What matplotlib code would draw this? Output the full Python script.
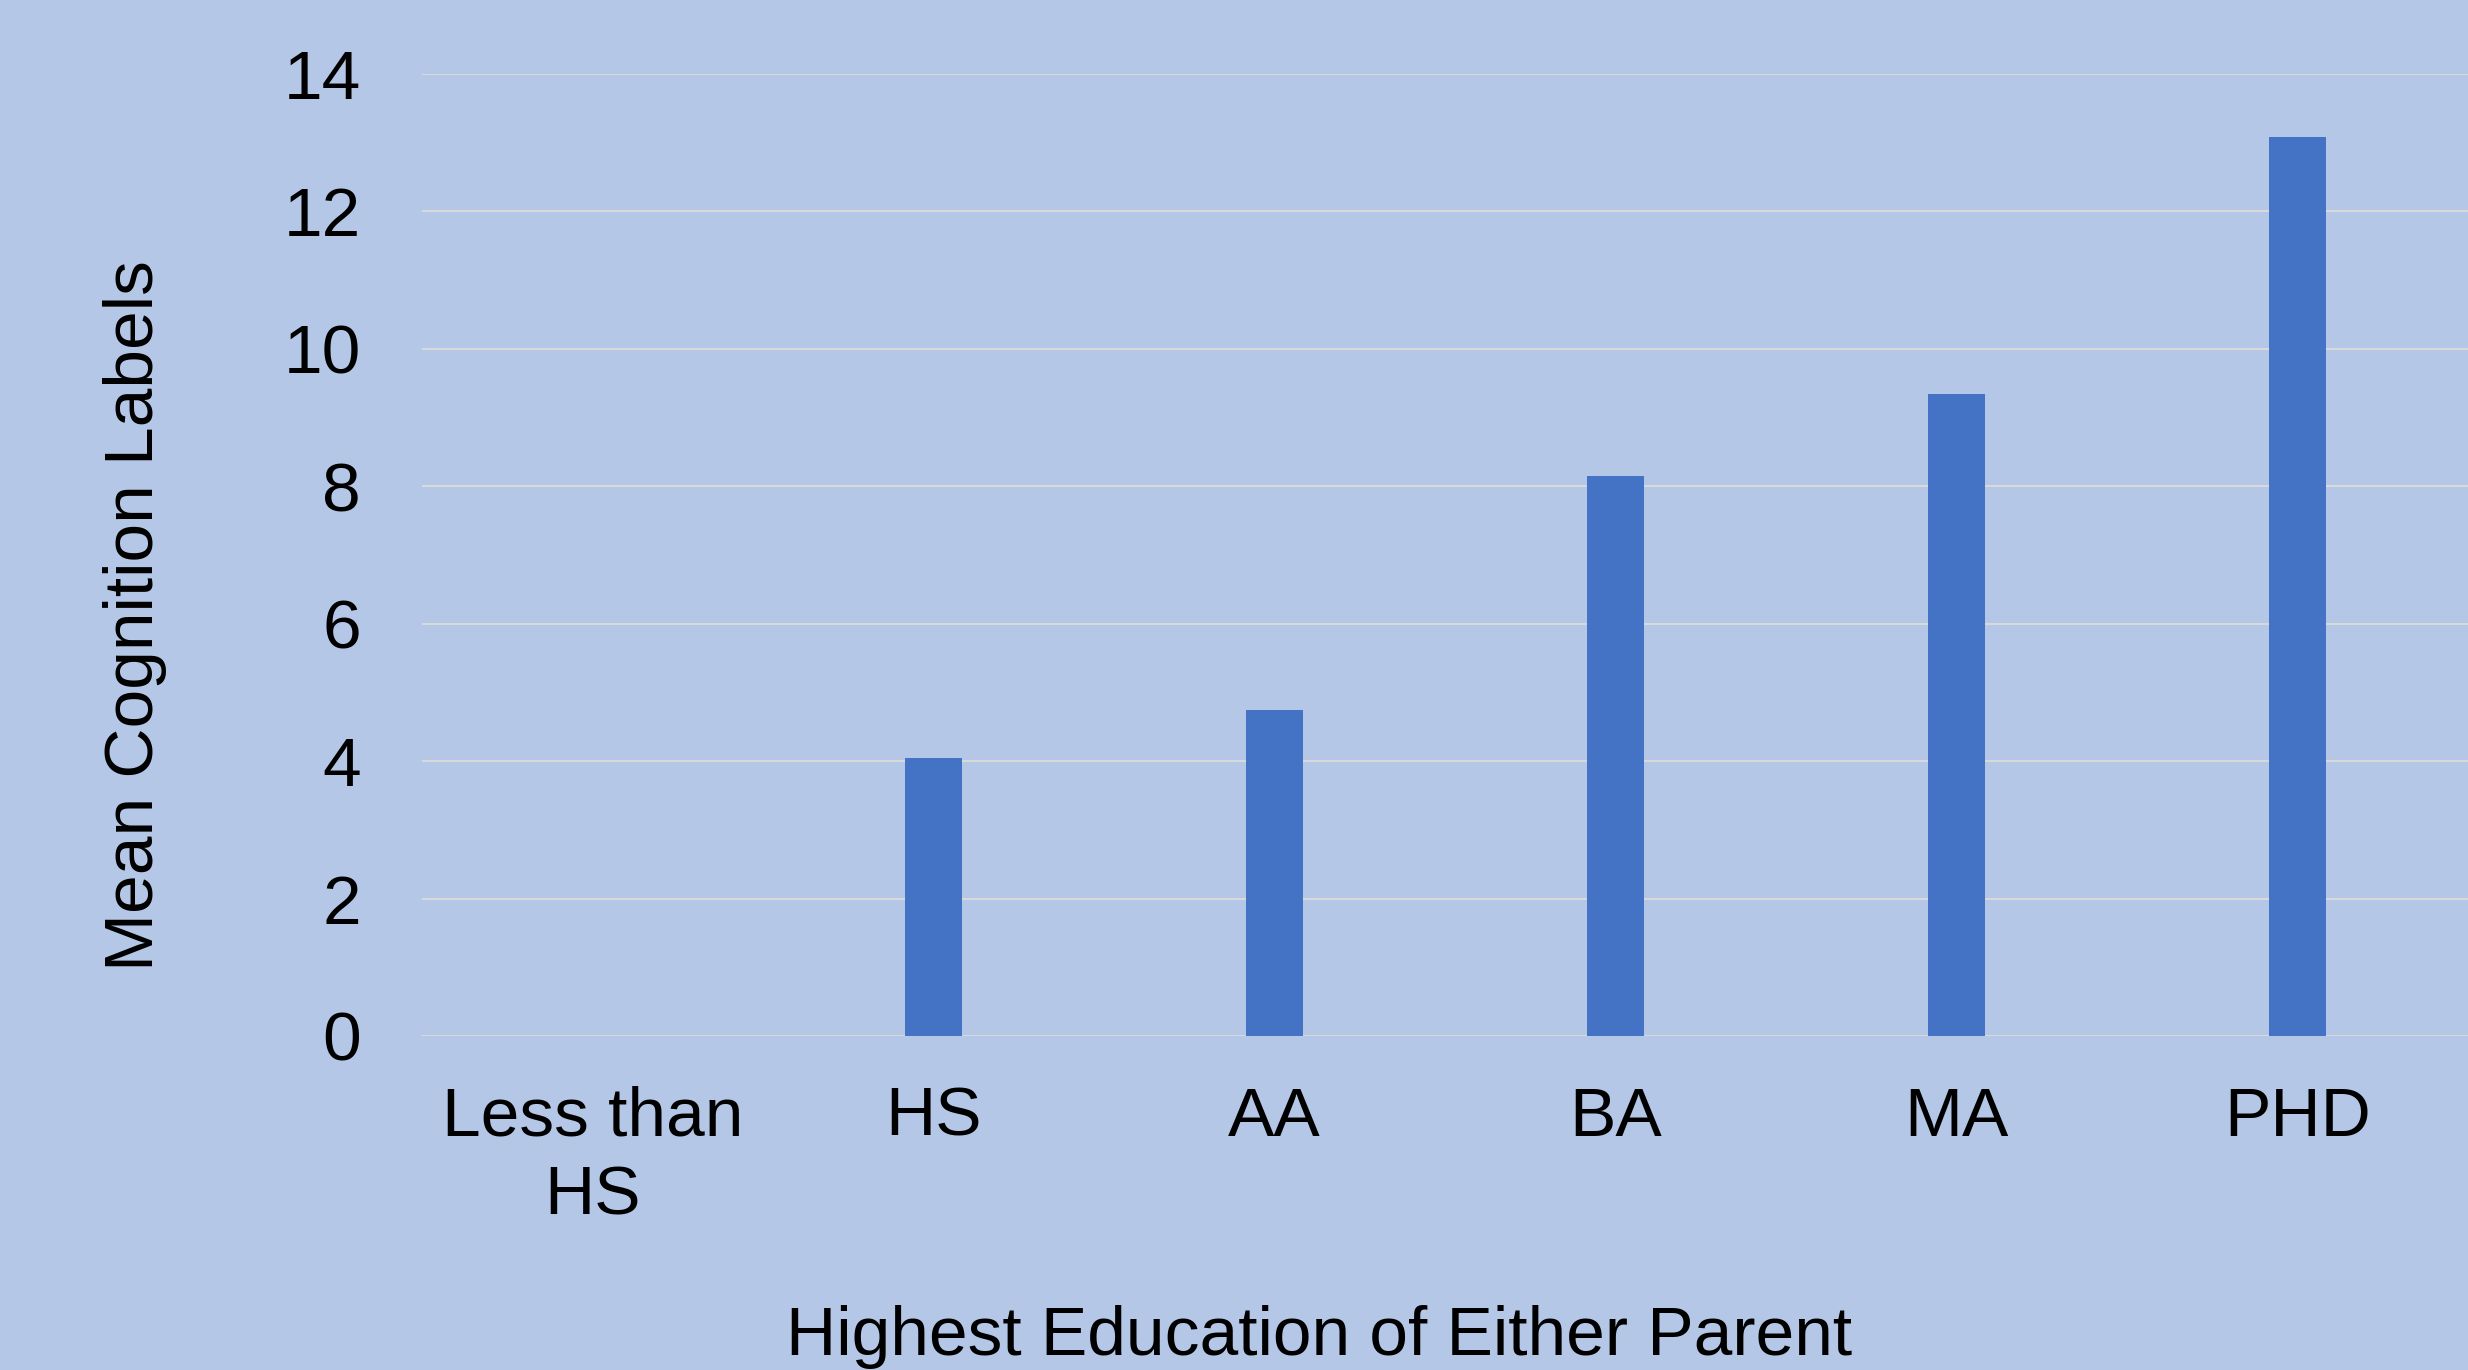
import matplotlib.pyplot as plt

# data
categories = ["Less than\nHS", "HS", "AA", "BA", "MA", "PHD"]
mean_labels = [0, 4.04, 4.74, 8.15, 9.35, 13.08]
yticks = [0, 2, 4, 6, 8, 10, 12, 14]

bg = "#B4C7E7"
bar_color = "#4472C4"
grid_color = "#D9D9D9"

plt.rcParams["font.family"] = ["Liberation Sans", "DejaVu Sans"]

fig = plt.figure(figsize=(24.68, 13.70), dpi=100)
fig.patch.set_facecolor(bg)
ax = fig.add_axes([0.171, 0.2438, 0.829, 0.7022])
ax.set_facecolor(bg)

x = list(range(len(categories)))
ax.bar(x, mean_labels, width=0.165, color=bar_color, zorder=3)

ax.set_xlim(-0.5, len(categories) - 0.5)
ax.set_ylim(0, 14)
ax.set_yticks(yticks)
ax.set_xticks(x)
ax.set_xticklabels(categories, linespacing=1.3)
ax.yaxis.grid(True, color=grid_color, linewidth=1.5, zorder=0)
ax.set_axisbelow(True)

for s in ax.spines.values():
    s.set_visible(False)
ax.tick_params(axis="both", length=0, labelsize=50, colors="black")
ax.tick_params(axis="y", pad=44)
ax.tick_params(axis="x", pad=36)

# axis titles placed as in the original (x title is not centred on the axes)
fig.text(0.0545, 0.551, "Mean Cognition Labels", fontsize=50,
         rotation=90, ha="center", va="center")
fig.text(0.5345, 0.024, "Highest Education of Either Parent", fontsize=50,
         ha="center", va="center")

fig.savefig("out.png", dpi=100, facecolor=bg)
